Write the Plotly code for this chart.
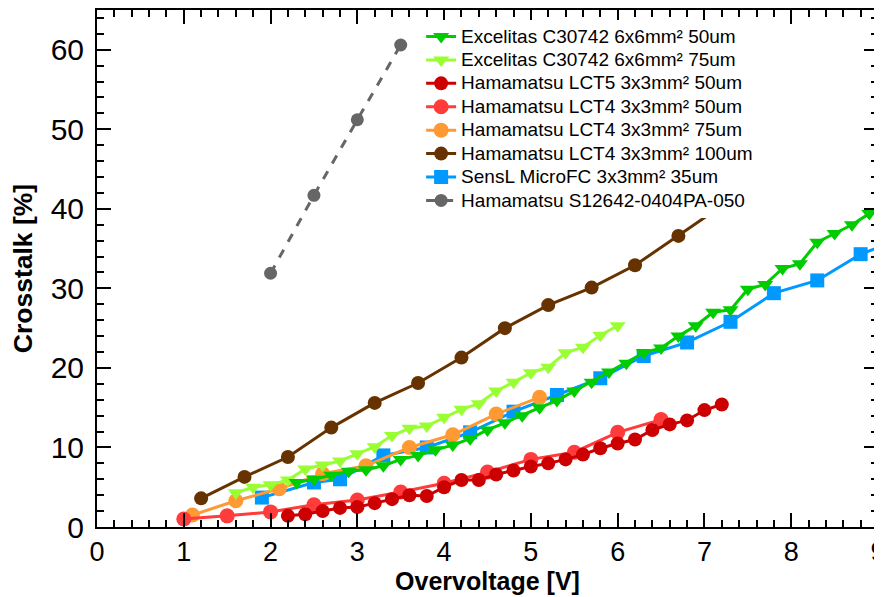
import plotly.graph_objects as go

# ---------------- data ----------------
exc50_x = [2.3, 2.5, 2.7, 2.9, 3.1, 3.3, 3.5, 3.7, 3.9, 4.1, 4.3, 4.5, 4.7, 4.9, 5.1, 5.3, 5.5,
           5.7, 5.9, 6.1, 6.3, 6.5, 6.7, 6.9, 7.1, 7.3, 7.5, 7.7, 7.9, 8.1, 8.3, 8.5, 8.7, 8.9]
exc50_y = [5.6, 6.0, 6.5, 7.0, 7.2, 7.7, 8.5, 9.0, 9.7, 10.3, 11.1, 12.2, 13.1, 14.0, 15.0, 15.9, 17.1,
           18.2, 19.5, 20.6, 21.9, 22.5, 24.0, 25.3, 27.0, 27.3, 29.9, 30.5, 32.5, 33.1, 35.8, 36.9, 38.0, 39.4]

exc75_x = [1.6, 1.8, 2.0, 2.2, 2.4, 2.6, 2.8, 3.0, 3.2, 3.4, 3.6, 3.8, 4.0, 4.2, 4.4, 4.6, 4.8,
           5.0, 5.2, 5.4, 5.6, 5.8, 6.0]
exc75_y = [4.3, 5.0, 5.3, 5.9, 7.3, 7.8, 8.3, 9.2, 10.1, 11.5, 12.4, 12.7, 13.8, 14.8, 15.5, 17.1, 18.2,
           19.4, 20.1, 21.9, 22.6, 24.1, 25.3]

lct5_50_x = [2.2, 2.4, 2.6, 2.8, 3.0, 3.2, 3.4, 3.6, 3.8, 4.0, 4.2, 4.4, 4.6, 4.8, 5.0, 5.2, 5.4,
             5.6, 5.8, 6.0, 6.2, 6.4, 6.6, 6.8, 7.0, 7.2]
lct5_50_y = [1.4, 1.6, 2.0, 2.4, 2.5, 3.0, 3.5, 4.0, 3.9, 5.0, 5.9, 5.9, 6.6, 7.1, 7.6, 8.0, 8.5,
             9.1, 9.9, 10.5, 11.0, 12.2, 12.9, 13.4, 14.7, 15.4]

lct4_50_x = [1.0, 1.5, 2.0, 2.5, 3.0, 3.5, 4.0, 4.5, 5.0, 5.5, 6.0, 6.5]
lct4_50_y = [1.0, 1.4, 1.9, 2.8, 3.4, 4.4, 5.5, 6.9, 8.5, 9.4, 11.9, 13.5]

lct4_75_x = [1.1, 1.6, 2.1, 2.6, 3.1, 3.6, 4.1, 4.6, 5.1]
lct4_75_y = [1.5, 3.3, 4.8, 6.7, 7.7, 10.0, 11.6, 14.2, 16.3]

lct4_100_x = [1.2, 1.7, 2.2, 2.7, 3.2, 3.7, 4.2, 4.7, 5.2, 5.7, 6.2, 6.7, 7.2]
lct4_100_y = [3.6, 6.3, 8.8, 12.5, 15.6, 18.1, 21.3, 25.0, 27.9, 30.1, 32.9, 36.6, 40.4]

sensl_x = [1.9, 2.5, 2.8, 3.3, 3.8, 4.3, 4.8, 5.3, 5.8, 6.3, 6.8, 7.3, 7.8, 8.3, 8.8, 9.3]
sensl_y = [3.7, 5.6, 6.0, 9.0, 10.0, 11.9, 14.5, 16.6, 18.7, 21.5, 23.2, 25.8, 29.4, 31.0, 34.3, 36.4]

s12642_x = [2.0, 2.5, 3.0, 3.5]
s12642_y = [31.9, 41.7, 51.2, 60.6]

names = [
    "Excelitas C30742 6x6mm² 50um",
    "Excelitas C30742 6x6mm² 75um",
    "Hamamatsu LCT5 3x3mm² 50um",
    "Hamamatsu LCT4 3x3mm² 50um",
    "Hamamatsu LCT4 3x3mm² 75um",
    "Hamamatsu LCT4 3x3mm² 100um",
    "SensL MicroFC 3x3mm² 35um",
    "Hamamatsu S12642-0404PA-050",
]

series = [
    (exc50_x, exc50_y, "#00cc00", "triangle-down", 14, "solid"),
    (exc75_x, exc75_y, "#99ff33", "triangle-down", 14, "solid"),
    (lct5_50_x, lct5_50_y, "#cc0000", "circle", 14, "solid"),
    (lct4_50_x, lct4_50_y, "#ff3b3b", "circle", 15, "solid"),
    (lct4_75_x, lct4_75_y, "#ff9933", "circle", 15, "solid"),
    (lct4_100_x, lct4_100_y, "#663300", "circle", 14, "solid"),
    (sensl_x, sensl_y, "#0099ff", "square", 14, "solid"),
    (s12642_x, s12642_y, "#666666", "circle", 13, "dash"),
]

fig = go.Figure()
for i in reversed(range(len(series))):
    x, y, c, sym, ms, dash = series[i]
    fig.add_trace(go.Scatter(
        x=x, y=y, name='<span style="font-size:19px">' + names[i] + '</span>',
        mode="lines+markers",
        line=dict(color=c, width=3, dash=dash),
        marker=dict(color=c, symbol=sym, size=ms),
        legendrank=i + 1,
    ))

FONT = "Liberation Sans, Arial, sans-serif"

axis_common = dict(
    showline=True, linecolor="black", linewidth=2, mirror="ticks",
    ticks="inside", ticklen=14, tickwidth=1.5, tickcolor="black",
    showgrid=False, zeroline=False, automargin=False,
    ticklabeloverflow="allow",
)

# page body has an 8px margin, so the figure is sized 8px smaller
fig.update_layout(
    width=874, height=589,
    margin=dict(l=89, r=4, t=2, b=70),
    paper_bgcolor="white", plot_bgcolor="white",
    xaxis=dict(range=[0, 9], dtick=1, tick0=0,
               tickfont=dict(family=FONT, size=27, color="black"),
               minor=dict(dtick=0.2, ticklen=7, ticks="inside", tickcolor="black", tickwidth=1.5),
               title=dict(text="<b>Overvoltage [V]</b>",
                          font=dict(family=FONT, size=25, color="black"),
                          standoff=5),
               **axis_common),
    yaxis=dict(range=[0, 65], dtick=10, tick0=0,
               tickfont=dict(family=FONT, size=30, color="black"),
               ticklabelstandoff=5,
               minor=dict(dtick=2, ticklen=7, ticks="inside", tickcolor="black", tickwidth=1.5),
               title=dict(text="<b>Crosstalk [%]</b>",
                          font=dict(family=FONT, size=26.5, color="black"),
                          standoff=10),
               **axis_common),
    legend=dict(x=0.415, y=0.981, xanchor="left", yanchor="top",
                bgcolor="white", borderwidth=0,
                font=dict(family=FONT, size=15.7, color="black"),
                itemwidth=30, tracegroupgap=0),
    showlegend=True,
)

fig.write_html("out.html")
